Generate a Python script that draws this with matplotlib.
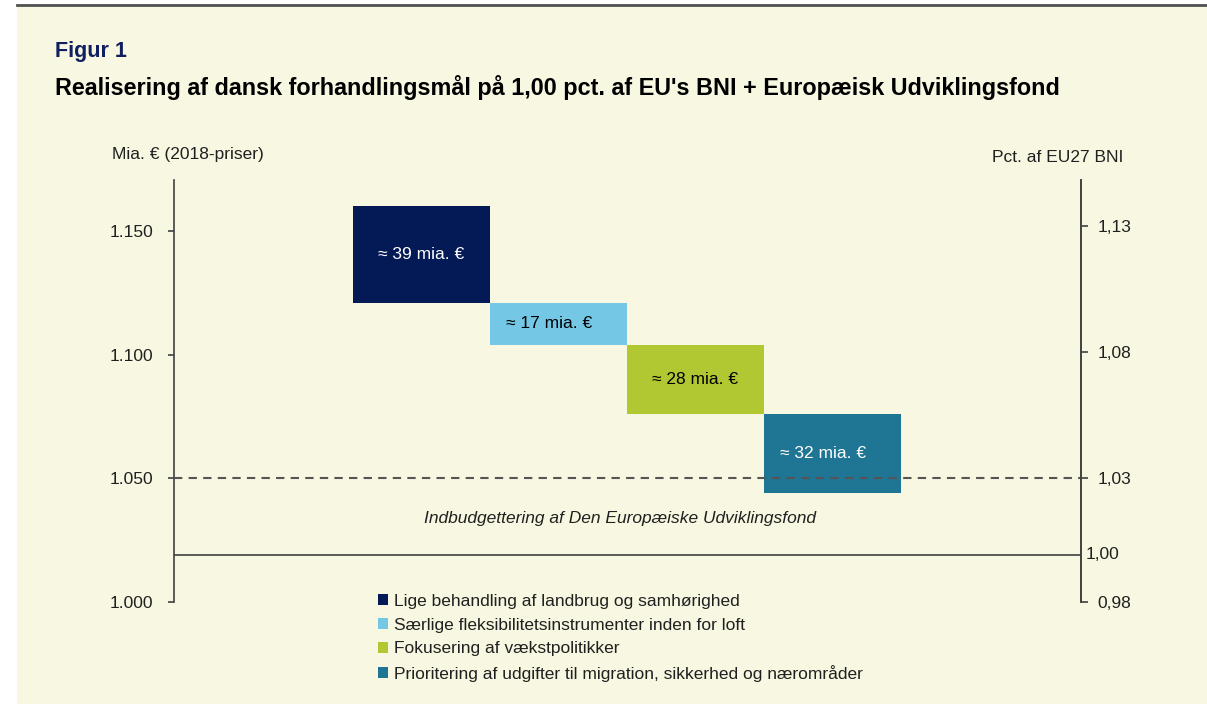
import numpy as np
import matplotlib.pyplot as plt
from matplotlib.patches import Patch, Rectangle
from matplotlib.lines import Line2D

plt.rcParams['font.family'] = ['Liberation Sans', 'DejaVu Sans']

# data (mia. euro, 2018-priser)
start = 1160
bidrag = [39, 17, 28, 32]
kategorier = ['Lige behandling af landbrug og samhørighed',
              'Særlige fleksibilitetsinstrumenter inden for loft',
              'Fokusering af vækstpolitikker',
              'Prioritering af udgifter til migration, sikkerhed og nærområder']
farver = ['#041A57', '#74C8E6', '#B2C832', '#1F7594']
tekstfarver = ['white', 'black', 'black', 'white']
maal_linje = 1050      # 1,03 pct.
nul_linje = 1019       # 1,00 pct.
venstre_ticks = [1000, 1050, 1100, 1150]
hoejre_pos = [1000, 1050, 1101, 1152]
hoejre_labels = ['0,98', '1,03', '1,08', '1,13']

bg = '#F8F7E1'
fs = 12.5
fig = plt.figure(figsize=(12.07, 7.04), dpi=100, facecolor='white')
fig.patches.append(Rectangle((17/1207, 0), 1, 1 - 5/704, transform=fig.transFigure,
                             facecolor=bg, edgecolor='none', zorder=-5))
fig.lines.append(Line2D([17/1207, 1], [1 - 5/704, 1 - 5/704], transform=fig.transFigure,
                        color='#505050', lw=2, zorder=-4))

ax = fig.add_axes([174/1207, 1 - 601.7/704, 907/1207, (601.7 - 180)/704])
ax.set_facecolor('none')

x = np.arange(len(bidrag))
toppe = start - np.concatenate([[0], np.cumsum(bidrag)[:-1]])
bunde = toppe - np.array(bidrag)
ax.bar(x, bidrag, bottom=bunde, width=1.0, color=farver, zorder=2)
for i, v in enumerate(bidrag):
    dx = -0.07 if i in (1, 3) else 0
    ax.text(x[i] + dx, bunde[i] + v / 2, f'≈ {v} mia. €', ha='center', va='center',
            color=tekstfarver[i], fontsize=fs, zorder=3)

ax.axhline(maal_linje, color='#555555', lw=1.5, ls=(0, (4, 3)), zorder=4)
ax.axhline(nul_linje, color='#404040', lw=1.2, zorder=4)
ax.text(1.45, 1033.5, 'Indbudgettering af Den Europæiske Udviklingsfond', ha='center', va='center',
        style='italic', fontsize=fs, color='#202020')

ax.set_xlim(-1.807, -1.807 + 907/137)
ax.set_ylim(1000, 1170.7)
for s in ['top', 'bottom']:
    ax.spines[s].set_visible(False)
for s in ['left', 'right']:
    ax.spines[s].set_color('#404040')
    ax.spines[s].set_linewidth(1.2)
ax.set_xticks([])
ax.set_yticks(venstre_ticks)
ax.set_yticklabels([f'{t:,}'.replace(',', '.') for t in venstre_ticks])
ax.tick_params(axis='y', direction='out', length=4, width=1.2, color='#404040',
               labelsize=fs, labelcolor='#202020', pad=11)

ax2 = ax.twinx()
ax2.set_ylim(ax.get_ylim())
for s in ['top', 'bottom', 'left']:
    ax2.spines[s].set_visible(False)
ax2.spines['right'].set_color('#404040')
ax2.spines['right'].set_linewidth(1.2)
ax2.set_yticks(hoejre_pos)
ax2.set_yticklabels(hoejre_labels)
ax2.tick_params(axis='y', direction='out', length=5, width=1.2, color='#404040',
                labelsize=fs, labelcolor='#202020', pad=7)
ax2.text(1.005, nul_linje, '1,00', transform=ax2.get_yaxis_transform(), ha='left', va='center',
         fontsize=fs, color='#202020')

fig.text(112/1207, 1 - 155/704, 'Mia. € (2018-priser)', ha='left', va='center', fontsize=fs, color='#202020')
fig.text(1123/1207, 1 - 157/704, 'Pct. af EU27 BNI', ha='right', va='center', fontsize=fs, color='#202020')

fig.text(55/1207, 1 - 51/704, 'Figur 1', ha='left', va='center', fontsize=15.5, fontweight='bold', color='#0F1F5F')
fig.text(55/1207, 1 - 87/704, "Realisering af dansk forhandlingsmål på 1,00 pct. af EU's BNI + Europæisk Udviklingsfond",
         ha='left', va='center', fontsize=16.8, fontweight='bold', color='black')

handles = [Patch(facecolor=c, edgecolor='none') for c in farver]
fig.legend(handles, kategorier, loc='upper left', bbox_to_anchor=(378/1207, 1 - 594/704),
           frameon=False, fontsize=fs, handlelength=0.6, handleheight=0.6, handletextpad=0.3,
           labelspacing=0.5, borderpad=0, borderaxespad=0, labelcolor='#202020')

fig.savefig('out.png', dpi=100, facecolor=fig.get_facecolor())
